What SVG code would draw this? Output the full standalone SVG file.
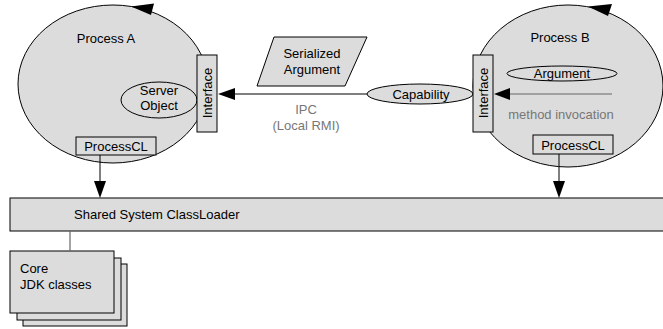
<svg xmlns="http://www.w3.org/2000/svg" width="663" height="329" viewBox="0 0 663 329">
<style>
.sh{fill:#dcdcdc;stroke:#000;stroke-width:1}
text{font-family:"Liberation Sans",Arial,sans-serif;font-size:13px;fill:#000}
.mid{text-anchor:middle}
.gray{fill:#777}
.ln{stroke:#000;stroke-width:1;fill:none}
.gln{stroke:#666;stroke-width:1.2;fill:none}
.ah{fill:#000}
</style>
<rect width="663" height="329" fill="#fff"/>
<g id="processA">
  <ellipse class="sh" cx="113" cy="84" rx="95" ry="79"/>
  <polygon class="ah" points="131,6.5 154,3.5 151,15"/>
  <text class="mid" x="106" y="43">Process A</text>
</g>
<g id="serverObject">
  <ellipse class="sh" cx="159" cy="100" rx="38" ry="18"/>
  <text class="mid" x="159" y="95">Server</text>
  <text class="mid" x="159" y="110">Object</text>
</g>
<g id="interfaceA">
  <rect class="sh" x="197" y="55" width="20" height="77"/>
  <text class="mid" transform="translate(211.5,93) rotate(-90)">Interface</text>
</g>
<g id="processCLA">
  <rect class="sh" x="76" y="137" width="80" height="18"/>
  <text class="mid" x="116" y="151">ProcessCL</text>
</g>
<g id="serializedArgument">
  <polygon class="sh" points="274,37 367,37 345,86 257,86"/>
  <text class="mid" x="312" y="58">Serialized</text>
  <text class="mid" x="312" y="74">Argument</text>
</g>
<g id="processB">
  <ellipse class="sh" cx="568" cy="86" rx="95" ry="81"/>
  <polygon class="ah" points="588,6.5 612,4 608,16"/>
  <text class="mid" x="560" y="42">Process B</text>
</g>
<g id="argument">
  <ellipse class="sh" cx="562" cy="73.5" rx="55" ry="7.5"/>
  <text class="mid" x="562" y="78">Argument</text>
</g>
<g id="capability">
  <ellipse class="sh" cx="420" cy="94" rx="53" ry="10"/>
  <text class="mid" x="421" y="99">Capability</text>
</g>
<g id="interfaceB">
  <rect class="sh" x="473" y="55" width="20" height="77"/>
  <text class="mid" transform="translate(487.5,93) rotate(-90)">Interface</text>
</g>
<g id="processCLB">
  <rect class="sh" x="533" y="135" width="80" height="19"/>
  <text class="mid" x="573" y="150">ProcessCL</text>
</g>
<g id="sharedClassLoader">
  <rect class="sh" x="10" y="198" width="660" height="33"/>
  <text x="74" y="219">Shared System ClassLoader</text>
</g>
<g id="coreJDK">
  <rect class="sh" x="23" y="264" width="104" height="62"/>
  <rect class="sh" x="17" y="258" width="104" height="62"/>
  <rect class="sh" x="10" y="251" width="104" height="62"/>
  <text x="20" y="273">Core</text>
  <text x="20" y="289">JDK classes</text>
</g>
<g id="connectors">
  <line class="ln" x1="367" y1="94" x2="234" y2="94"/>
  <polygon class="ah" points="218,94 235,88 235,100"/>
  <text class="mid gray" x="306" y="114">IPC</text>
  <text class="mid gray" x="306" y="130">(Local RMI)</text>
  <line class="gln" x1="612" y1="94" x2="509" y2="94"/>
  <polygon class="ah" points="494,94 510,88 510,100"/>
  <text class="mid gray" x="561" y="119">method invocation</text>
  <line class="ln" x1="100" y1="155" x2="100" y2="182"/>
  <polygon class="ah" points="100,198 94,181 106,181"/>
  <line class="ln" x1="559" y1="154" x2="559" y2="182"/>
  <polygon class="ah" points="559,198 553,181 565,181"/>
  <line class="gln" x1="70" y1="231" x2="70" y2="251"/>
</g>
</svg>
